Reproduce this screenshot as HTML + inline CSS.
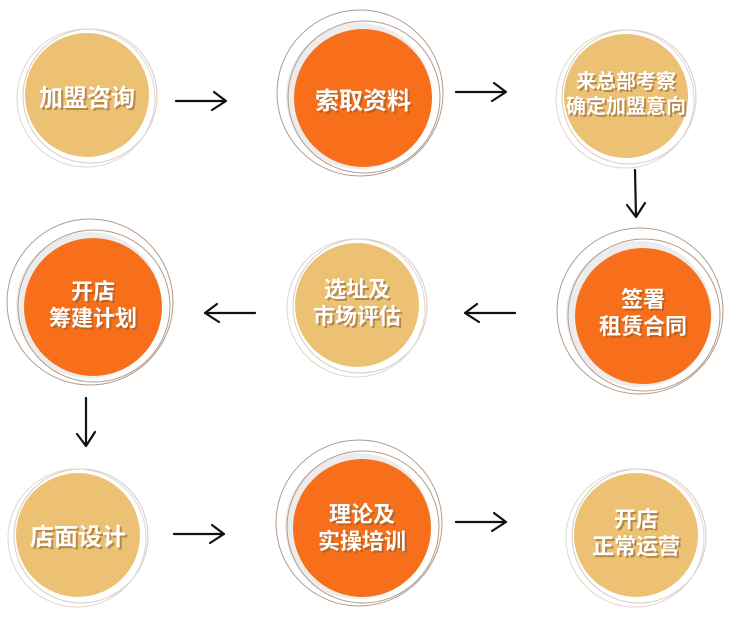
<!DOCTYPE html>
<html><head><meta charset="utf-8"><style>
body{margin:0;background:#fff;width:738px;height:619px;overflow:hidden}
svg{display:block}
text{font-family:"Liberation Sans","Noto Sans CJK SC",sans-serif;font-weight:bold;fill:#fff;text-anchor:middle}
.sh{fill:#8a5a2a;opacity:.55}
</style></head><body>
<svg width="738" height="619" viewBox="0 0 738 619">
<defs>
<marker id="a" markerWidth="10" markerHeight="10" refX="8" refY="5" orient="auto" markerUnits="userSpaceOnUse"></marker>
</defs>
<g fill="none" stroke="#b8a293" stroke-width="1">
<!-- tan rings -->
<circle cx="90" cy="96" r="67" stroke="#d8cbc2"/><circle cx="86" cy="98" r="69" stroke="#e0d6cf"/>
<circle cx="629" cy="97" r="67" stroke="#d8cbc2"/><circle cx="625" cy="99" r="69" stroke="#e0d6cf"/>
<circle cx="360" cy="306" r="67" stroke="#d8cbc2"/><circle cx="356" cy="308" r="69" stroke="#e0d6cf"/>
<circle cx="81" cy="536" r="67" stroke="#d8cbc2"/><circle cx="77" cy="538" r="69" stroke="#e0d6cf"/>
<circle cx="639" cy="536" r="67" stroke="#d8cbc2"/><circle cx="635" cy="538" r="69" stroke="#e0d6cf"/>
</g>
<!-- orange backs -->
<g fill="#ececec">
<circle cx="359" cy="96" r="73"/><circle cx="639" cy="314" r="73"/><circle cx="89" cy="305" r="73"/><circle cx="358" cy="526" r="73"/>
</g>
<g fill="none" stroke="#b39a89" stroke-width="1">
<circle cx="360" cy="93" r="83"/><circle cx="364" cy="97" r="76"/>
<circle cx="640" cy="311" r="83"/><circle cx="644" cy="315" r="76"/>
<circle cx="90" cy="302" r="83"/><circle cx="94" cy="306" r="76"/>
<circle cx="359" cy="523" r="83"/><circle cx="363" cy="527" r="76"/>
</g>
<g fill="#ecc173">
<circle cx="87" cy="95" r="62"/><circle cx="626" cy="96" r="62"/><circle cx="357" cy="305" r="62"/><circle cx="78" cy="535" r="62"/><circle cx="636" cy="535" r="62"/>
</g>
<g fill="#f76f1a">
<circle cx="363" cy="98" r="69"/><circle cx="643" cy="316" r="68"/><circle cx="93" cy="307" r="69"/><circle cx="362" cy="528" r="69"/>
</g>
<!-- arrows -->
<g fill="none" stroke="#111" stroke-width="2.2" stroke-linecap="round" stroke-linejoin="round">
<path d="M176 101 L226 101 M214 92 L226 101 L212 110"/>
<path d="M456 92 L506 92 M494 83 L506 92 L492 101"/>
<path d="M635 170 L636 217 M627 205 L636 217 L645 203"/>
<path d="M515 313 L465 313 M477 304 L465 313 L479 322"/>
<path d="M255 313 L205 313 M217 304 L205 313 L219 322"/>
<path d="M86 398 L86 446 M77 434 L86 446 L95 432"/>
<path d="M174 534 L224 534 M212 525 L224 534 L210 543"/>
<path d="M456 522 L506 522 M494 513 L506 522 L492 531"/>
</g>
<!-- text -->
<g font-size="24">
<text x="89" y="108" class="sh">加盟咨询</text><text x="87" y="106">加盟咨询</text>
<text x="365" y="111" class="sh">索取资料</text><text x="363" y="109">索取资料</text>
<text x="80" y="547" class="sh">店面设计</text><text x="78" y="545">店面设计</text>
</g>
<g font-size="20">
<text x="628" y="90" class="sh">来总部考察</text><text x="626" y="88">来总部考察</text>
<text x="628" y="115" class="sh">确定加盟意向</text><text x="626" y="113">确定加盟意向</text>
</g>
<g font-size="22">
<text x="645" y="309" class="sh">签署</text><text x="643" y="307">签署</text>
<text x="645" y="336" class="sh">租赁合同</text><text x="643" y="334">租赁合同</text>
<text x="359" y="299" class="sh">选址及</text><text x="357" y="297">选址及</text>
<text x="359" y="326" class="sh">市场评估</text><text x="357" y="324">市场评估</text>
<text x="95" y="301" class="sh">开店</text><text x="93" y="299">开店</text>
<text x="95" y="328" class="sh">筹建计划</text><text x="93" y="326">筹建计划</text>
<text x="364" y="524" class="sh">理论及</text><text x="362" y="522">理论及</text>
<text x="364" y="551" class="sh">实操培训</text><text x="362" y="549">实操培训</text>
<text x="638" y="529" class="sh">开店</text><text x="636" y="527">开店</text>
<text x="638" y="556" class="sh">正常运营</text><text x="636" y="554">正常运营</text>
</g>
</svg>
</body></html>
